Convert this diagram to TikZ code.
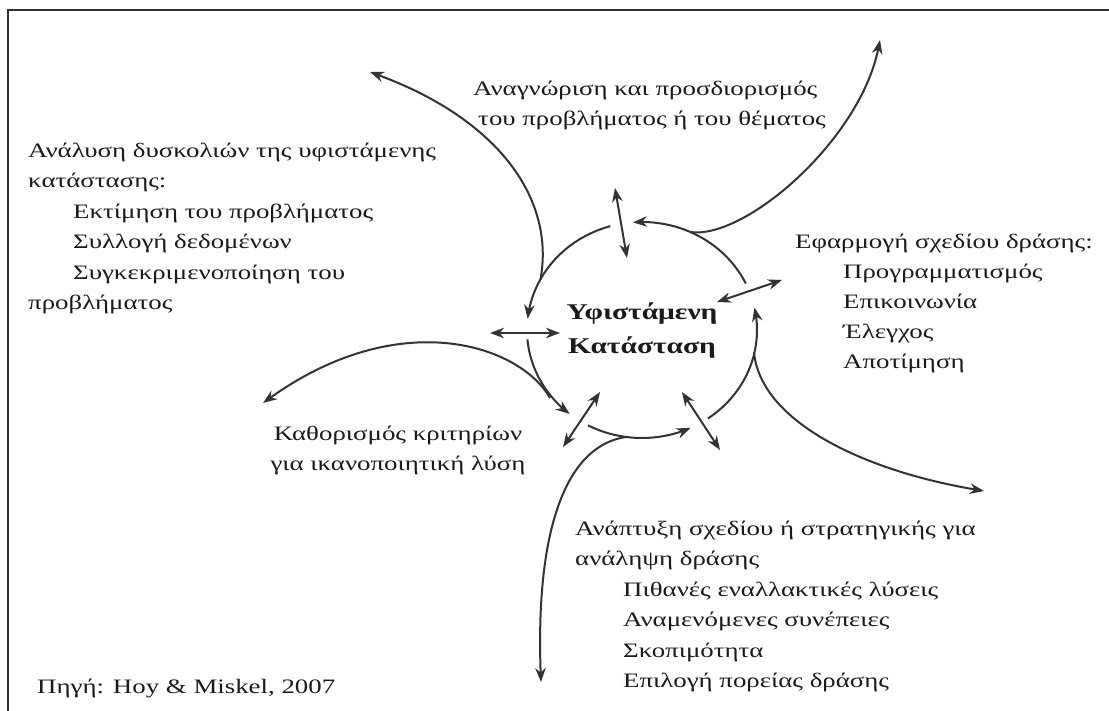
\documentclass[tikz,border=0pt]{standalone}
\usepackage{fontspec}
\setmainfont[FakeStretch=1.31]{Liberation Serif}
\usetikzlibrary{arrows.meta}
\definecolor{ink}{HTML}{333333}
\definecolor{txt}{HTML}{1A1A1A}
\begin{document}
\begin{tikzpicture}[x=1pt,y=-1pt,
  tip/.tip={Stealth[length=14pt,width=10.5pt,inset=4.5pt]},
  flow/.style={draw=ink,line width=2pt,-tip},
  both/.style={draw=ink,line width=2pt,tip-tip},
  lbl/.style={inner sep=0pt,anchor=north west,align=left,text=txt,
    font=\fontsize{20.5}{30.5}\selectfont},
  centrebox/.style={inner sep=0pt,anchor=north,align=center,text=txt,
    font=\fontsize{22.5}{34}\selectfont\bfseries}
]
\useasboundingbox (0,0) rectangle (1109,711);
\fill[white] (0,0) rectangle (1109,711);
% outer frame (runs off the right and bottom edges)
\draw[ink,line width=2.6pt] (8,711) -- (8,10) -- (1109,10);

% centre of the cycle
\coordinate (C) at (642,330);
\node[centrebox] (centre) at (642,295.2) {\strut Υφιστάμενη\\Κατάσταση};

% the five arcs of the cycle
\draw[flow] plot[domain=106:174,samples=40] ({642+115*cos(\x)},{330-108*sin(\x)});
\draw[flow] plot[domain=185:231,samples=40] ({642+115*cos(\x)},{330-108*sin(\x)});
\draw[flow] plot[domain=242:295,samples=40] ({642+115*cos(\x)},{330-108*sin(\x)});
\draw[flow] plot[domain=305:372,samples=40] ({642+115*cos(\x)},{330-108*sin(\x)});
\draw[flow] plot[domain=25.5:94.5,samples=40] ({642+115*cos(\x)},{330-108*sin(\x)});

% two-way exchanges across the cycle
\coordinate (t1) at (615,188); \coordinate (t2) at (627,258);
\coordinate (l1) at (490,333); \coordinate (l2) at (560,333);
\coordinate (ll1) at (563,447); \coordinate (ll2) at (600,392);
\coordinate (lr1) at (682,392); \coordinate (lr2) at (720,450);
\coordinate (r1) at (717,302); \coordinate (r2) at (782,280);
\draw[both] (t1) -- (t2);
\draw[both] (l1) -- (l2);
\draw[both] (ll1) -- (ll2);
\draw[both] (lr1) -- (lr2);
\draw[both] (r1) -- (r2);

% branches leaving the cycle
\coordinate (a0) at (690,232); \coordinate (a1) at (880,40);
\coordinate (b0) at (540.5,279.3); \coordinate (b1) at (370,72);
\coordinate (c0) at (550,398); \coordinate (c1) at (263,403);
\coordinate (d0) at (626,437); \coordinate (d1) at (541,682);
\coordinate (e0) at (754,352); \coordinate (e1) at (984,491);
\draw[flow] (a0) .. controls (745,240) and (860,140) .. (a1);
\draw[flow] (b0) .. controls (555,200) and (500,120) .. (b1);
\draw[flow] (c0) .. controls (520,345) and (400,305) .. (c1);
\draw[flow] (d0) .. controls (570,445) and (535,520) .. (d1);
\draw[flow] (e0) .. controls (760,420) and (860,470) .. (e1);

% stage descriptions
\node[lbl] (recog) at (473,73.6) {\strut Αναγνώριση και προσδιορισμός\\
  \hspace*{5pt}του προβλήματος ή του θέματος};
\node[lbl] (anal) at (28,135.6) {\strut Ανάλυση δυσκολιών της υφιστάμενης\\
  κατάστασης:\\
  \hspace*{45pt}Εκτίμηση του προβλήματος\\
  \hspace*{45pt}Συλλογή δεδομένων\\
  \hspace*{45pt}Συγκεκριμενοποίηση του\\
  προβλήματος};
\node[lbl,font=\fontsize{20.5}{30}\selectfont] (impl) at (795,227) {\strut Εφαρμογή σχεδίου δράσης:\\
  \hspace*{48pt}Προγραμματισμός\\
  \hspace*{48pt}Επικοινωνία\\
  \hspace*{48pt}Έλεγχος\\
  \hspace*{48pt}Αποτίμηση};
\node[lbl,anchor=north,align=center] (crit) at (398,418.6) {\strut Καθορισμός κριτηρίων\\
  για ικανοποιητική λύση};
\node[lbl] (plan) at (575,513.6) {\strut Ανάπτυξη σχεδίου ή στρατηγικής για\\
  ανάληψη δράσης\\
  \hspace*{48pt}Πιθανές εναλλακτικές λύσεις\\
  \hspace*{48pt}Αναμενόμενες συνέπειες\\
  \hspace*{48pt}Σκοπιμότητα\\
  \hspace*{48pt}Επιλογή πορείας δράσης};
\node[lbl,anchor=base west] (src) at (37,693) {Πηγή: Hoy \& Miskel, 2007};
\end{tikzpicture}
\end{document}
